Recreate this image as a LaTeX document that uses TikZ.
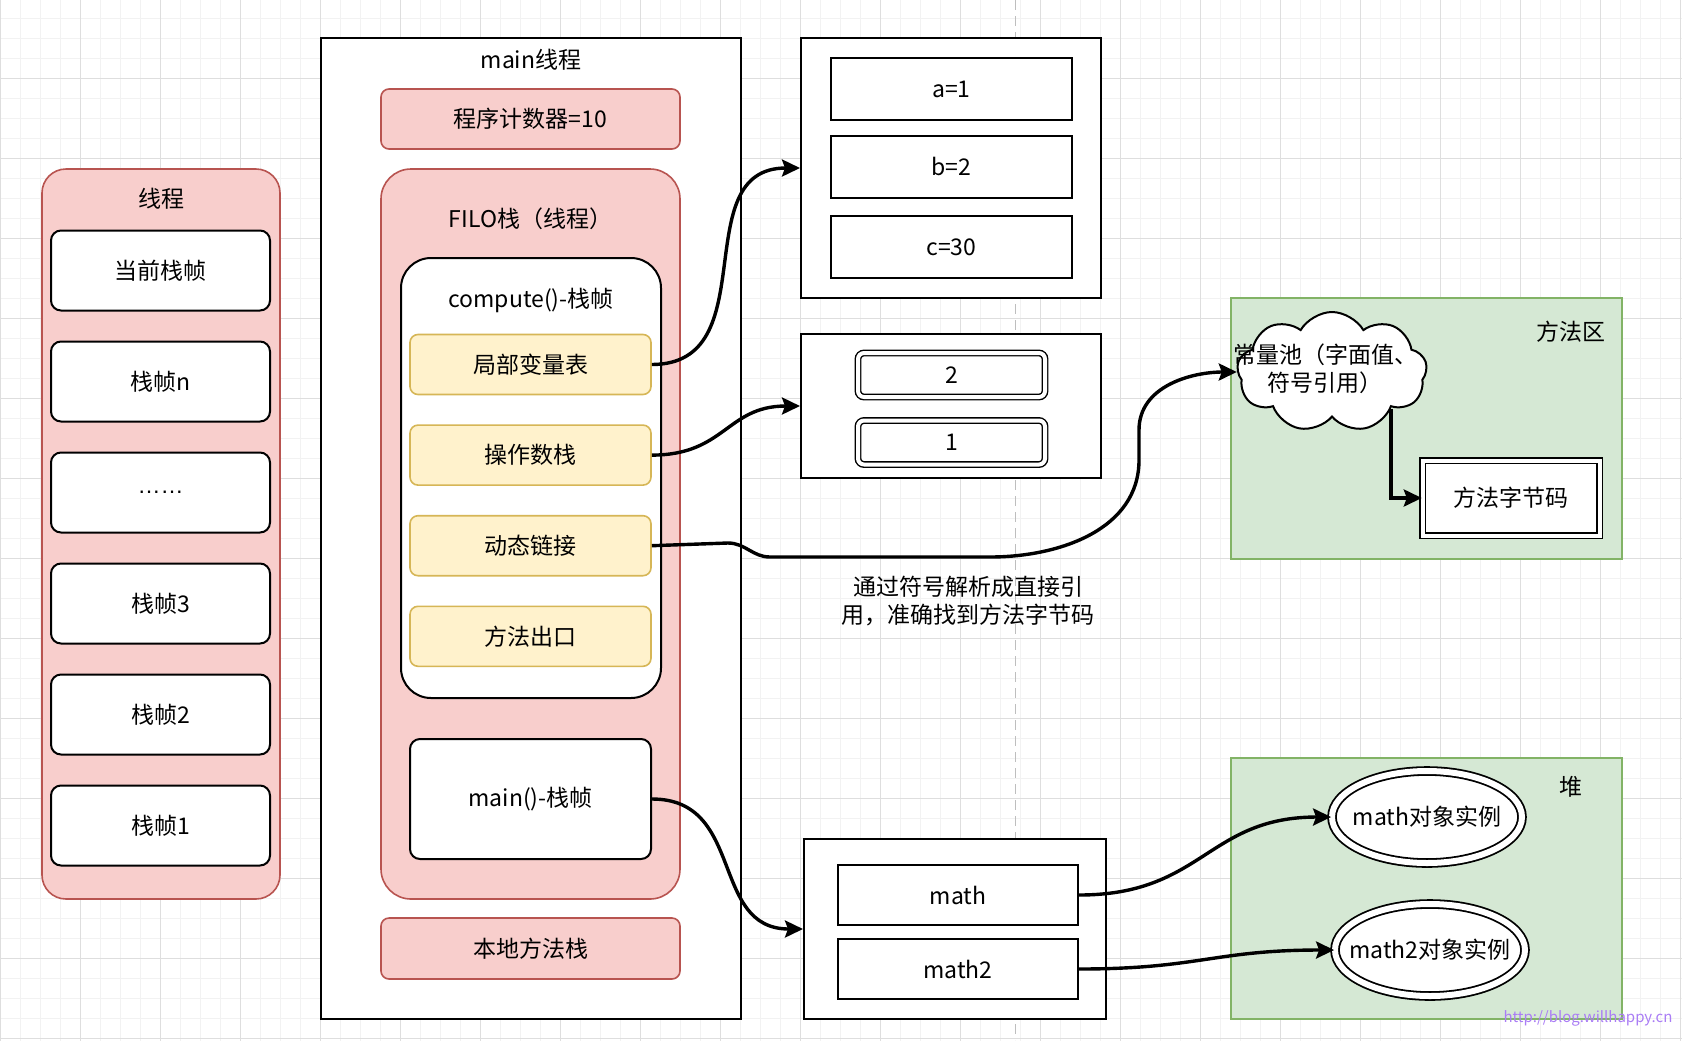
\documentclass[tikz,border=0pt]{standalone}
\usepackage{fontspec}
\setmainfont{Noto Sans CJK SC}
\newfontfamily\latinfont{Liberation Sans}
\usepackage{tikz}
\usetikzlibrary{shapes.geometric,shapes.symbols,arrows.meta,positioning}
\definecolor{stackred}{RGB}{248,206,204}
\definecolor{stackredline}{RGB}{184,84,80}
\definecolor{slotyellow}{RGB}{255,242,204}
\definecolor{slotyellowline}{RGB}{214,182,86}
\definecolor{areagreen}{RGB}{213,232,212}
\definecolor{areagreenline}{RGB}{130,179,102}
\definecolor{gridminor}{RGB}{242,242,242}
\definecolor{gridmajor}{RGB}{222,222,222}
\definecolor{splitgray}{RGB}{190,190,190}
\definecolor{markpurple}{RGB}{170,125,245}

\begin{document}
\begin{tikzpicture}[
    x=0.5pt, y=-0.5pt,
    node distance=14.5pt,
    every node/.style={font=\fontsize{11.5}{14}\selectfont},
    box/.style={rectangle, draw, line width=1pt, fill=white, align=center, inner sep=0pt},
    redbox/.style={rectangle, draw=stackredline, line width=0.8pt, fill=stackred, align=center, inner sep=0pt},
    slot/.style={rectangle, draw=slotyellowline, line width=0.8pt, fill=slotyellow, rounded corners=4pt, minimum width=120.5pt, minimum height=30pt, align=center, inner sep=0pt},
    frame/.style={box, rounded corners=5pt, minimum width=109.5pt, minimum height=40pt},
    dbox/.style={rectangle, draw, double, double distance=2pt, line width=0.7pt, fill=white, align=center, inner sep=0pt},
    area/.style={rectangle, draw=areagreenline, line width=0.8pt, fill=areagreen, minimum width=195.5pt, minimum height=130.5pt},
    obj/.style={ellipse, draw, double, double distance=3pt, line width=0.9pt, fill=white, minimum width=95pt, minimum height=46pt, inner xsep=-14pt, inner ysep=0pt},
    arrow/.style={-{Stealth[length=9pt,width=8.5pt,inset=1.5pt]}, line width=1.7pt}
]
\useasboundingbox (0,0) rectangle (1682,1040);

% Grid
\begin{scope}[yshift=1pt]
\clip (0,-2) rectangle (1682,1042);
\draw[gridminor, line width=0.5pt, step=10pt] (0,-20) grid (1682,1060);
\draw[gridmajor, line width=0.5pt, step=40pt] (0,-80) grid (1682,1120);
\end{scope}
\draw[splitgray, line width=0.5pt, dash pattern=on 5pt off 3pt] (1015,0) -- (1015,1040);

% Thread
\node[redbox, rounded corners=12pt, minimum width=119pt, minimum height=365pt] (thread) at (161,534) {};
\node (threadlbl) at (161,199) {线程};
\node[frame] (cur) at (160.5,270.5) {当前栈帧};
\node[frame, below=of cur] (framen) {栈帧n};
\node[frame, below=of framen] (dots) {{\latinfont ……}};
\node[frame, below=of dots] (frame3) {栈帧3};
\node[frame, below=of frame3] (frame2) {栈帧2};
\node[frame, below=of frame2] (frame1) {栈帧1};

% main thread
\node[box, minimum width=210pt, minimum height=490.5pt] (mainthread) at (531,528.5) {};
\node (mainlbl) at (531,60) {main线程};
\node[redbox, rounded corners=4pt, minimum width=149.5pt, minimum height=30pt] (pc) at (530.5,119) {程序计数器=10};
\node[redbox, rounded corners=15pt, minimum width=149.5pt, minimum height=365pt] (filo) at (530.5,534) {};
\node (filolbl) at (530.5,219) {FILO栈（线程）};
\node[box, rounded corners=15pt, minimum width=130pt, minimum height=220pt] (compute) at (531,478) {};
\node (computelbl) at (531,300) {compute()-栈帧};
\node[slot] (lvt) at (530.5,364.5) {局部变量表};
\node[slot, below=of lvt] (ops) {操作数栈};
\node[slot, below=of ops] (dyn) {动态链接};
\node[slot, below=of dyn] (exit) {方法出口};
\node[box, rounded corners=5pt, minimum width=120.5pt, minimum height=60pt] (mframe) at (530.5,799) {main()-栈帧};
\node[redbox, rounded corners=4pt, minimum width=149.5pt, minimum height=30.5pt] (native) at (530.5,948.5) {本地方法栈};

% Locals
\node[box, minimum width=150pt, minimum height=130pt] (vars) at (951,168) {};
\node[box, minimum width=120.5pt, minimum height=31pt] (vara) at (951.5,89) {a=1};
\node[box, minimum width=120.5pt, minimum height=31pt] (varb) at (951.5,166.5) {b=2};
\node[box, minimum width=120.5pt, minimum height=31pt] (varc) at (951.5,247) {c=30};

% Operand stack
\node[box, minimum width=150pt, minimum height=72pt] (opstk) at (951,406) {};
\node[dbox, rounded corners=3pt, minimum width=93.5pt, minimum height=22pt] (optop) at (951.5,375) {2};
\node[dbox, rounded corners=3pt, minimum width=93.5pt, minimum height=22pt] (opbot) at (951.5,442.5) {1};

% References
\node[box, minimum width=151pt, minimum height=90pt] (refs) at (955,929) {};
\node[box, minimum width=120pt, minimum height=30pt] (math) at (958,895) {math};
\node[box, minimum width=120pt, minimum height=30pt] (math2) at (958,969) {math2};

% Method area
\node[area] (marea) at (1426.5,428.5) {};
\node (marealbl) at (1571,332) {方法区};
\node[cloud, cloud puffs=9, cloud puff arc=120, cloud ignores aspect, draw, line width=1pt, fill=white, minimum width=95pt, minimum height=60pt, inner sep=0pt] (cpool) at (1332,372) {};
\node[align=center] (cpoollbl) at (1325,369) {常量池（字面值、\\符号引用）};
\node[dbox, minimum width=88.5pt, minimum height=37.5pt] (mcode) at (1511,498) {方法字节码};

% Heap
\node[area] (heap) at (1426.5,888.5) {};
\node (heaplbl) at (1571,787) {堆};
\node[obj] (obj1) at (1427,817) {math对象实例};
\node[obj] (obj2) at (1430,950) {math2对象实例};

% Note
\node[align=center] (note) at (968,601) {通过符号解析成直接引\\用，准确找到方法字节码};
\node[font=\fontsize{7.5}{8}\selectfont, text=markpurple] (mark) at (1588,1018) {http://blog.willhappy.cn};

% Arrows
\draw[arrow] (lvt.east) to[out=0,in=180,looseness=1.2] (vars.west);
\draw[arrow] (ops.east) to[out=0,in=180,looseness=1.2] (opstk.west);
\draw[arrow] (dyn.east) -- (728,543) to[out=0,in=180] (770,557) -- (990,557) to[out=0,in=-90] (1139,460) -- (1139,430) to[out=90,in=180] (cpool.west);
\draw[arrow] (cpool.-32) |- (mcode.west);
\draw[arrow] (mframe.east) to[out=0,in=180,looseness=1.2] (refs.west);
\draw[arrow] (math.east) to[out=0,in=180,looseness=1.2] (obj1.west);
\draw[arrow] (math2.east) to[out=0,in=180,looseness=1.2] (obj2.west);

\end{tikzpicture}
\end{document}
